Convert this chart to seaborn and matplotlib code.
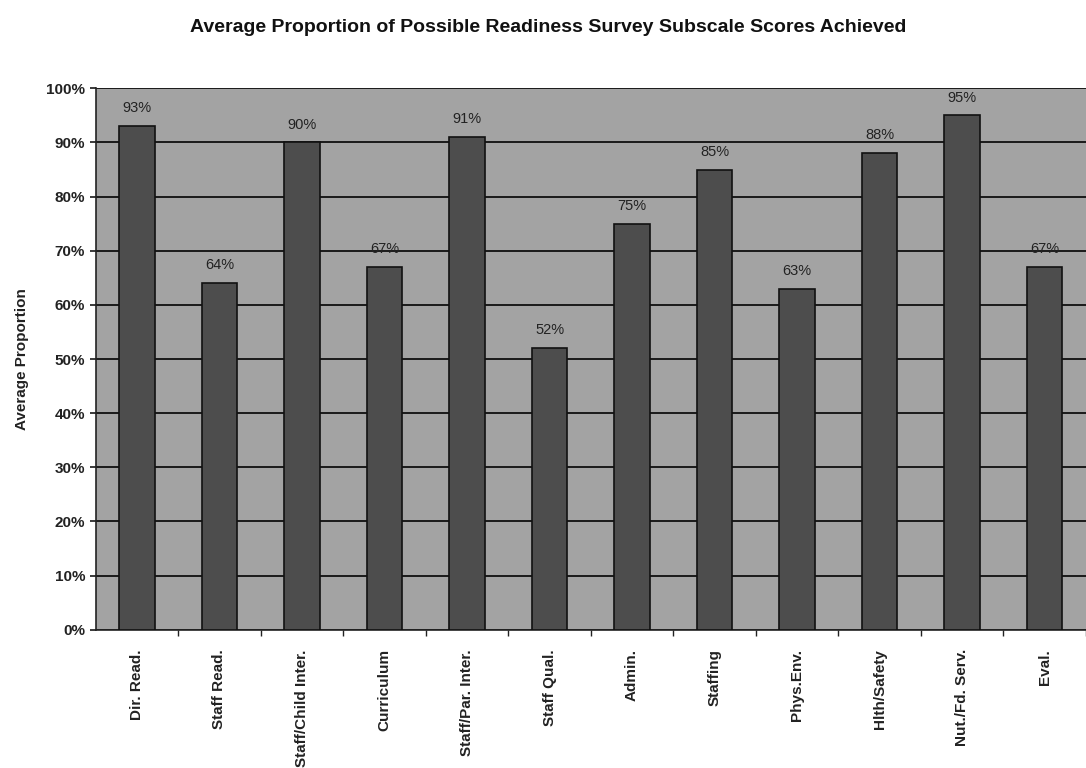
import matplotlib
matplotlib.use("Agg")
import matplotlib.pyplot as plt
from matplotlib.ticker import PercentFormatter, FixedLocator
import seaborn as sns
import pandas as pd

categories = ["Dir. Read.", "Staff Read.", "Staff/Child Inter.", "Curriculum",
              "Staff/Par. Inter.", "Staff Qual.", "Admin.", "Staffing",
              "Phys.Env.", "Hlth/Safety", "Nut./Fd. Serv.", "Eval."]
values = [93, 64, 90, 67, 91, 52, 75, 85, 63, 88, 95, 67]
y_ticks = [0, 10, 20, 30, 40, 50, 60, 70, 80, 90, 100]

df = pd.DataFrame({"Subscale": categories, "Proportion": values})

sns.set_theme(style="white")
plt.rcParams["font.family"] = ["Liberation Sans", "DejaVu Sans"]

fig = plt.figure(figsize=(10.86, 7.68), dpi=100)
ax = fig.add_axes([0.088, 0.18, 0.912, 0.705])
ax.set_facecolor("#a3a3a3")

sns.barplot(data=df, x="Subscale", y="Proportion", ax=ax, color="#4d4d4d",
            width=0.43, edgecolor="#111111", linewidth=1.2, saturation=1, zorder=3)

ax.set_ylim(0, 100)
ax.set_xlim(-0.5, 11.5)
ax.yaxis.set_major_locator(FixedLocator(y_ticks))
ax.yaxis.set_major_formatter(PercentFormatter(decimals=0))
ax.grid(axis="y", color="#1a1a1a", linewidth=1.4, zorder=0)
ax.set_axisbelow(True)

for i, v in enumerate(values):
    ax.text(i, v + 2.0, f"{v}%", ha="center", va="bottom", fontsize=10.5,
            color="#222222", zorder=4)

for s in ["left", "bottom"]:
    ax.spines[s].set_visible(True)
    ax.spines[s].set_color("#222222")
    ax.spines[s].set_linewidth(1.2)
for s in ["top", "right"]:
    ax.spines[s].set_visible(False)

ax.set_xticks(range(len(categories)))
ax.set_xticks([i + 0.5 for i in range(len(categories))], minor=True)
ax.set_xticklabels(categories, rotation=90, fontsize=11, fontweight="bold",
                   color="#222222")
ax.tick_params(axis="x", which="major", length=0, pad=14)
ax.tick_params(axis="x", which="minor", length=4, color="#222222", bottom=True)
ax.tick_params(axis="y", labelsize=11, length=4, color="#222222", left=True,
               labelcolor="#222222")
for lbl in ax.get_yticklabels():
    lbl.set_fontweight("bold")

ax.set_xlabel("")
ax.set_ylabel("Average Proportion", fontsize=11, fontweight="bold",
              color="#222222", labelpad=12)

fig.suptitle("Average Proportion of Possible Readiness Survey Subscale Scores Achieved",
             x=0.505, y=0.975, fontsize=14, fontweight="bold", color="#111111")

fig.savefig("out.png", dpi=100)
